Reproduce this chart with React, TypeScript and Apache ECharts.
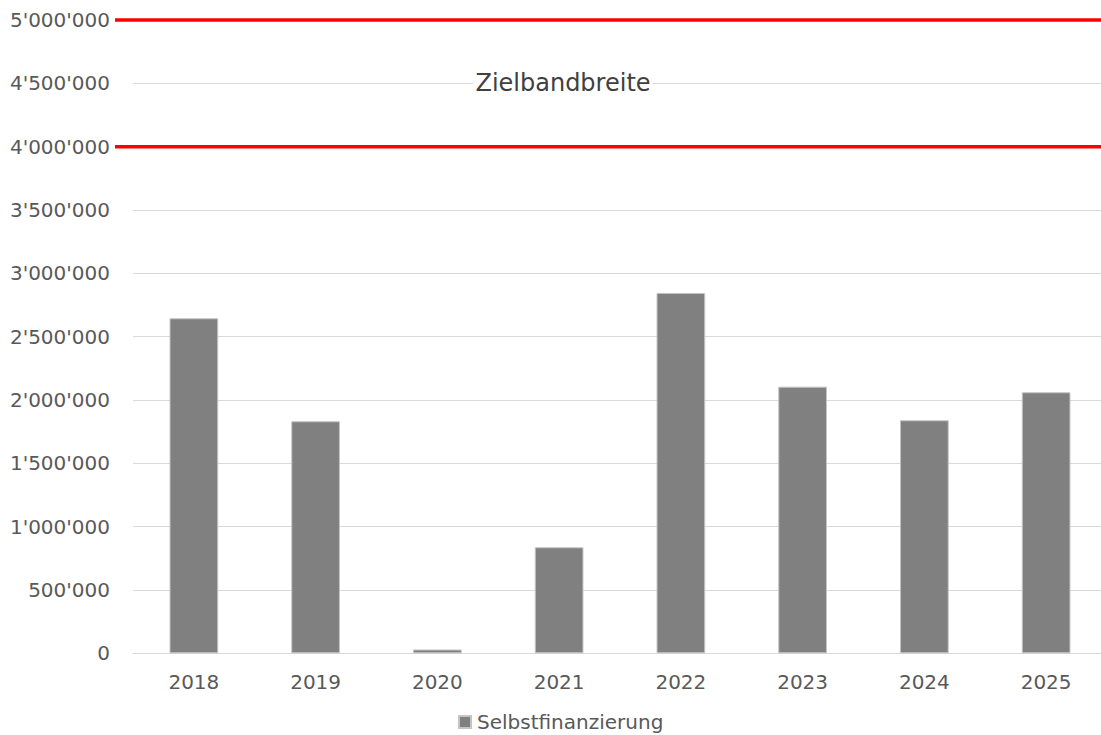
import React, { useEffect, useRef } from "react";
import * as echarts from "echarts";

const categories = ["2018", "2019", "2020", "2021", "2022", "2023", "2024", "2025"];
const selbstfinanzierung = [2645000, 1832000, 30000, 837000, 2845000, 2105000, 1840000, 2061000];
const targetBand = [4000000, 5000000];
const bandLabel = "Zielbandbreite";
const bandLabelValue = 4500000;
const seriesName = "Selbstfinanzierung";

const FONT = "'DejaVu Sans', Verdana, sans-serif";

function fmt(v: number): string {
  return String(v).replace(/\B(?=(\d{3})+(?!\d))/g, "'");
}

export default function App() {
  const ref = useRef<HTMLDivElement>(null);
  useEffect(() => {
    if (!ref.current) return;
    const chart = echarts.init(ref.current, null, { renderer: "svg" });
    chart.setOption({
      animation: false,
      backgroundColor: "#ffffff",
      grid: { left: 133, right: 0, top: 20, bottom: 81.7, containLabel: false },
      legend: {
        data: [seriesName],
        left: 458,
        top: 712,
        padding: 0,
        icon: "rect",
        itemWidth: 12,
        itemHeight: 12,
        itemGap: 6,
        textStyle: { color: "#595959", fontSize: 20, fontFamily: FONT, padding: [0, 0, 0, 1] },
      },
      xAxis: {
        type: "category",
        data: categories,
        axisLine: { show: true, lineStyle: { color: "#d9d9d9", width: 1 } },
        axisTick: { show: false },
        axisLabel: { color: "#595959", fontSize: 20, fontFamily: FONT, margin: 19 },
      },
      yAxis: {
        type: "value",
        min: 0,
        max: 5000000,
        interval: 500000,
        axisLine: { show: false },
        axisTick: { show: false },
        splitLine: { lineStyle: { color: "#d9d9d9", width: 1 } },
        axisLabel: {
          color: "#595959",
          fontSize: 20,
          fontFamily: FONT,
          margin: 23,
          formatter: (v: number) => fmt(v),
        },
      },
      series: [
        {
          name: seriesName,
          type: "bar",
          data: selbstfinanzierung,
          barWidth: "40%",
          itemStyle: { color: "#808080", borderColor: "#c4c4c4", borderWidth: 1 },
        },
      ],
    });
    const y0 = chart.convertToPixel({ yAxisIndex: 0 }, targetBand[0]) as number;
    const y1 = chart.convertToPixel({ yAxisIndex: 0 }, targetBand[1]) as number;
    const yl = chart.convertToPixel({ yAxisIndex: 0 }, bandLabelValue) as number;
    chart.setOption({
      graphic: [
        { type: "line", shape: { x1: 115, y1: y0, x2: 1107, y2: y0 }, style: { stroke: "#ff0000", lineWidth: 3.5 }, z: 10 },
        { type: "line", shape: { x1: 115, y1: y1, x2: 1107, y2: y1 }, style: { stroke: "#ff0000", lineWidth: 3.5 }, z: 10 },
        {
          type: "text",
          x: 563,
          y: yl,
          z: 10,
          style: {
            text: bandLabel,
            fill: "#404040",
            font: "24px " + FONT,
            align: "center",
            verticalAlign: "middle",
            backgroundColor: "#ffffff",
            padding: [0, 2],
          },
        },
      ],
    });
    return () => chart.dispose();
  }, []);
  return (
    <div style={{ position: "absolute", left: 0, top: 0, width: 1101, height: 735, overflow: "hidden" }}>
      <div ref={ref} style={{ width: 1107, height: 735 }} />
    </div>
  );
}
